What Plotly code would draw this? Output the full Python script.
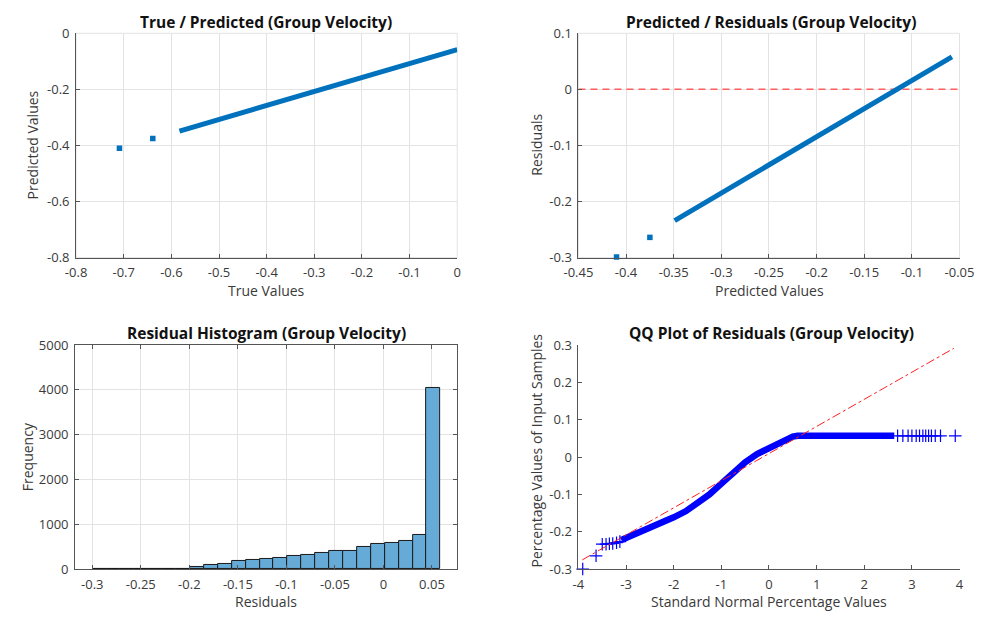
import plotly.graph_objects as go

# ---------------- data ----------------
# main cloud of true / predicted values (dense, drawn as a band)
band_true = [-0.583, 0.0]
band_pred = [-0.349, -0.058]
# isolated samples
outlier_true = [-0.709, -0.639]
outlier_pred = [-0.410, -0.375]

# residual histogram (25 bins)
hist_first_edge = -0.2995
hist_bin_width = 0.01433
hist_counts = [10, 0, 12, 2, 4, 6, 9, 50, 85, 108, 180, 200, 238, 260, 290,
               325, 370, 410, 410, 490, 560, 590, 630, 770, 4050]

# QQ plot: dense part of the sorted residuals vs normal quantiles
qq_band_x = [-3.10, -2.95, -2.75, -2.5, -2.25, -2.0, -1.75, -1.5, -1.25, -1.0,
             -0.75, -0.5, -0.25, 0.0, 0.2, 0.35, 0.5, 0.6, 1.5, 2.63]
qq_band_y = [-0.222, -0.214, -0.203, -0.187, -0.174, -0.161, -0.145, -0.125,
             -0.100, -0.071, -0.042, -0.014, 0.008, 0.025, 0.039, 0.049, 0.055,
             0.057, 0.057, 0.057]
# sparse tail samples
qq_tail_x = [-3.91, -3.63, -3.50, -3.42, -3.35, -3.28, -3.20, -3.13,
             2.70, 2.81, 2.92, 3.00, 3.09, 3.16, 3.23, 3.29, 3.35, 3.41, 3.49,
             3.60, 3.91]
qq_tail_y = [-0.2995, -0.264, -0.233, -0.233, -0.232, -0.231, -0.229, -0.226,
             0.057, 0.057, 0.057, 0.057, 0.057, 0.057, 0.057, 0.057, 0.057,
             0.057, 0.057, 0.057, 0.057]
# reference line through the quartiles
qq_ref_x = [-3.92, 3.88]
qq_ref_y = [-0.275, 0.291]

residual_band = [t - p for t, p in zip(band_true, band_pred)]
residual_out = [t - p for t, p in zip(outlier_true, outlier_pred)]

# ---------------- style ----------------
W, H = 992, 620
FONT = "Open Sans"
TICK_COL = "#3a3a3a"
GRID_COL = "#e3e3e3"
MATLAB_BLUE = "#0072BD"


def px_x(p):
    return p / W


def px_y(p):
    return 1 - p / H


panels = {
    "x1": ([63, 456], [25, 256]),
    "x2": ([581, 974], [25, 256]),
    "x3": ([62, 456], [346, 577]),
    "x4": ([581, 974], [346, 577]),
}


def fmt(v):
    return "%g" % round(v, 4)


fig = go.Figure()

# --- panel 1: true vs predicted
fig.add_trace(go.Scatter(x=band_true, y=band_pred, mode="lines",
                         line=dict(color=MATLAB_BLUE, width=5),
                         xaxis="x", yaxis="y", showlegend=False))
fig.add_trace(go.Scatter(x=outlier_true, y=outlier_pred, mode="markers",
                         marker=dict(color=MATLAB_BLUE, size=5.5, symbol="square"),
                         xaxis="x", yaxis="y", showlegend=False))

# --- panel 2: predicted vs residuals
fig.add_trace(go.Scatter(x=[-0.45, -0.05], y=[0, 0], mode="lines",
                         line=dict(color="rgb(255,95,95)", width=1.5, dash="7px,5px"),
                         xaxis="x2", yaxis="y2", showlegend=False))
fig.add_trace(go.Scatter(x=band_pred, y=residual_band, mode="lines",
                         line=dict(color=MATLAB_BLUE, width=5),
                         xaxis="x2", yaxis="y2", showlegend=False))
fig.add_trace(go.Scatter(x=outlier_pred, y=residual_out, mode="markers",
                         marker=dict(color=MATLAB_BLUE, size=5.5, symbol="square"),
                         cliponaxis=False,
                         xaxis="x2", yaxis="y2", showlegend=False))

# --- panel 3: histogram
centers = [hist_first_edge + (i + 0.5) * hist_bin_width for i in range(len(hist_counts))]
fig.add_trace(go.Bar(x=centers, y=hist_counts, width=[hist_bin_width] * len(hist_counts),
                     marker=dict(color="#66aad7", line=dict(color="#1a1a1a", width=1)),
                     xaxis="x3", yaxis="y3", showlegend=False))

# --- panel 4: QQ plot
fig.add_trace(go.Scatter(x=qq_band_x, y=qq_band_y, mode="lines",
                         line=dict(color="#0000ff", width=6.5),
                         xaxis="x4", yaxis="y4", showlegend=False))
fig.add_trace(go.Scatter(x=qq_tail_x, y=qq_tail_y, mode="markers",
                         marker=dict(symbol="cross-thin", size=9,
                                     line=dict(color="#0000ff", width=1.2)),
                         cliponaxis=False,
                         xaxis="x4", yaxis="y4", showlegend=False))
fig.add_trace(go.Scatter(x=qq_ref_x, y=qq_ref_y, mode="lines",
                         line=dict(color="#ff2020", width=1, dash="dashdot"),
                         xaxis="x4", yaxis="y4", showlegend=False))


def axis(dom, rng, ticks, grid, anchor, mirror=False):
    return dict(domain=dom, range=rng, tickvals=ticks, ticktext=[fmt(t) for t in ticks],
                showgrid=grid, gridcolor=GRID_COL, gridwidth=1, zeroline=False,
                showline=True, linecolor="#555555", linewidth=1,
                ticks="inside", ticklen=4, tickcolor="#555555",
                ticklabelstandoff=3,
                tickfont=dict(family=FONT, size=13, color=TICK_COL),
                mirror="ticks" if mirror else False, anchor=anchor, fixedrange=True)


layout = dict(width=W, height=H, margin=dict(l=0, r=0, t=0, b=0),
              paper_bgcolor="white", plot_bgcolor="white", bargap=0,
              font=dict(family=FONT))

specs = [
    ("x1", "xaxis", "yaxis", "x", "y",
     [-0.8, 0], [-0.8 + 0.1 * i for i in range(9)],
     [-0.8, 0], [-0.8, -0.6, -0.4, -0.2, 0], True, False),
    ("x2", "xaxis2", "yaxis2", "x2", "y2",
     [-0.45, -0.05], [-0.45 + 0.05 * i for i in range(9)],
     [-0.3, 0.1], [-0.3, -0.2, -0.1, 0, 0.1], True, False),
    ("x3", "xaxis3", "yaxis3", "x3", "y3",
     [-0.3177, 0.076], [-0.3, -0.25, -0.2, -0.15, -0.1, -0.05, 0, 0.05],
     [0, 5000], [0, 1000, 2000, 3000, 4000, 5000], True, True),
    ("x4", "xaxis4", "yaxis4", "x4", "y4",
     [-4, 4], [-4, -3, -2, -1, 0, 1, 2, 3, 4],
     [-0.3, 0.3], [-0.3, -0.2, -0.1, 0, 0.1, 0.2, 0.3], False, False),
]

shapes = []
for key, xk, yk, xa, ya, xr, xt, yr, yt, grid, mir in specs:
    (x0, x1), (y0, y1) = panels[key]
    layout[xk] = axis([px_x(x0), px_x(x1)], xr, xt, grid, ya, mir)
    layout[yk] = axis([px_y(y1), px_y(y0)], yr, yt, grid, xa, mir)
    if grid and not mir:
        shapes.append(dict(type="rect", xref=f"{xa} domain", yref=f"{ya} domain",
                           x0=0, x1=1, y0=0, y1=1, layer="below",
                           line=dict(color=GRID_COL, width=1)))

annotations = []


def text(x, y, s, size=14, bold=False, angle=0, color="#262626"):
    annotations.append(dict(x=px_x(x), y=px_y(y), xref="paper", yref="paper",
                            text=f"<b>{s}</b>" if bold else s, showarrow=False,
                            textangle=angle, xanchor="center", yanchor="middle",
                            font=dict(family=FONT, size=size, color=color)))


# titles
text(259, 13, "True / Predicted (Group Velocity)", 15.5, True, color="#111111")
text(780, 13, "Predicted / Residuals (Group Velocity)", 15.5, True, color="#111111")
text(259, 334, "Residual Histogram (Group Velocity)", 15.5, True, color="#111111")
text(780, 334, "QQ Plot of Residuals (Group Velocity)", 15.5, True, color="#111111")
# axis labels
text(259, 290, "True Values", color=TICK_COL)
text(18, 140, "Predicted Values", angle=-90, color=TICK_COL)
text(778, 290, "Predicted Values", color=TICK_COL)
text(538, 140, "Residuals", angle=-90, color=TICK_COL)
text(259, 610, "Residuals", color=TICK_COL)
text(13, 461, "Frequency", angle=-90, color=TICK_COL)
text(778, 610, "Standard Normal Percentage Values", color=TICK_COL)
text(538, 455, "Percentage Values of Input Samples", angle=-90, color=TICK_COL)

layout["annotations"] = annotations
layout["shapes"] = shapes
fig.update_layout(**layout)
fig.write_html("out.html")
